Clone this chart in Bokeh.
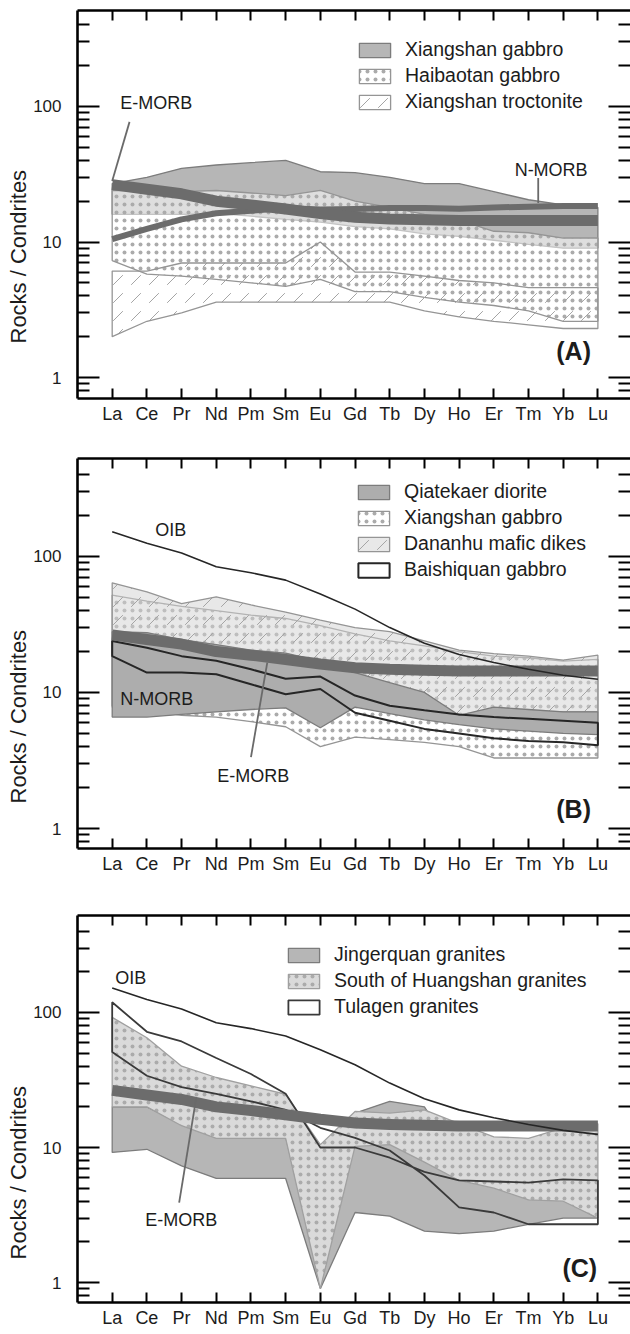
from bokeh.plotting import figure
from bokeh.models import (Range1d, FixedTicker, LinearAxis, LogAxis, Label, Legend, Title,
                          LegendItem, NumeralTickFormatter, CustomJSTickFormatter)
from bokeh.layouts import column
from bokeh.embed import file_html
from bokeh.resources import INLINE

# ---------------- data ----------------
elements = ["La", "Ce", "Pr", "Nd", "Pm", "Sm", "Eu", "Gd", "Tb", "Dy", "Ho", "Er", "Tm", "Yb", "Lu"]

emorb = [26.5, 24.5, 22.7, 20.0, 18.8, 17.5, 16.2, 15.2, 14.8, 14.6, 14.4, 14.4, 14.4, 14.4, 14.4]
nmorb = [10.5, 12.5, 14.7, 16.3, 17.0, 17.8, 17.4, 17.5, 17.8, 17.8, 17.6, 18.0, 18.2, 18.4, 18.4]
oib = [152, 125, 106, 84, 76, 67, 53, 41, 30, 23, 19, 16.6, 14.8, 13.4, 12.5]

# panel A
xg_a_top = [27, 30, 35, 37, 38.5, 40, 33, 32.5, 30, 27, 27, 23.5, 20.5, 18.8, 18]
xg_a_bot = [16, 16, 16, 16.3, 15.5, 14.7, 14, 13, 12.5, 11.5, 11, 10.3, 9.6, 9.0, 9.0]
hb_top = [24, 24, 23.5, 24, 23, 22, 24, 20, 18, 16, 14.5, 12, 11.7, 10.7, 10.7]
hb_bot = [7.3, 5.8, 5.6, 5.3, 5.0, 4.7, 5.3, 4.3, 4.3, 3.9, 3.6, 3.4, 3.1, 2.6, 2.6]
tr_top = [6.1, 6.1, 7.0, 7.0, 7.0, 7.0, 10.0, 6.0, 6.0, 5.6, 5.2, 5.0, 4.6, 4.6, 4.6]
tr_bot = [2.0, 2.6, 3.0, 3.6, 3.6, 3.6, 3.6, 3.6, 3.6, 3.1, 2.8, 2.6, 2.45, 2.3, 2.3]

# panel B
qd_top = [28, 27.5, 24.5, 22.5, 20.5, 19.5, 17, 14, 11.8, 10, 6.8, 7.8, 7.5, 7.2, 7.2]
qd_bot = [6.6, 6.6, 6.9, 7.2, 7.5, 7.7, 5.5, 7.8, 7.0, 6.3, 5.8, 5.4, 5.2, 5.0, 4.9]
xg_b_top = [52, 47, 43, 40, 37, 35, 31, 27, 24, 22, 20, 18.5, 18, 17, 17.5]
xg_b_bot = [8, 7.5, 6.8, 6.6, 6.1, 5.6, 4.0, 4.7, 4.5, 4.3, 4.0, 3.3, 3.3, 3.3, 3.3]
dk_top = [64, 55, 45, 50.5, 44, 39, 34, 30, 28, 24, 20.5, 19.3, 18.5, 17.3, 18.8]
dk_bot = [7.8, 7.5, 7.3, 7.5, 8, 8.5, 9, 9.5, 10, 10, 6.6, 7.5, 7.3, 7.2, 7.2]
bs_up = [23.9, 21.3, 18.5, 17.1, 14.8, 12.6, 13.1, 9.5, 8.0, 7.4, 6.9, 6.6, 6.4, 6.2, 6.0]
bs_lo = [18.5, 14.0, 14.0, 13.6, 11.5, 9.7, 10.6, 7.1, 6.2, 5.4, 5.0, 4.6, 4.4, 4.3, 4.1]

# panel C
jq_top = [20, 20, 15, 12, 12, 12, 1.0, 18, 22, 20, 8, 5.5, 4.3, 4.1, 3.0]
jq_bot = [9.2, 9.7, 7.3, 5.9, 5.9, 5.9, 0.9, 3.3, 3.1, 2.4, 2.3, 2.4, 2.7, 3.0, 3.0]
sh_top = [92, 65, 40, 33, 28.6, 24.8, 10.5, 18.5, 18, 19, 15, 12, 11.7, 14, 15]
sh_bot = [20, 20, 14.5, 11.7, 11.7, 11.7, 0.9, 10.2, 10.5, 7.8, 5.7, 5.0, 4.1, 4.0, 3.0]
tl_up = [119, 72, 61, 46, 35, 25, 10, 10, 8.4, 6.6, 5.7, 5.6, 5.5, 5.8, 5.7]
tl_lo = [51, 34, 28, 25, 22, 19, 14, 11.8, 9.5, 6.2, 3.6, 3.3, 2.7, 2.7, 2.7]

major_y = [1, 10, 100]
minor_y = [0.8, 0.9, 2, 3, 4, 5, 6, 7, 8, 9, 20, 30, 40, 50, 60, 70, 80, 90, 200, 300, 400]

# ---------------- style ----------------
FONT = "Liberation Sans"
TXT = "#1c1c1c"
DARK = "#b6b6b6"
LIGHT = "#dadada"
EDGE = "#7c7c7c"
MORB = "#6c6c6c"
xs = list(range(len(elements)))
blank = CustomJSTickFormatter(code="return ''")

dots = dict(hatch_pattern="dot", hatch_scale=8, hatch_weight=0.5, hatch_color="#ababab")
dashes = dict(hatch_pattern="right_diagonal_dash", hatch_scale=18, hatch_weight=1, hatch_color="#a4a4a4")


def band(p, upper, lower, **kw):
    return p.patch(xs + xs[::-1], list(upper) + list(lower)[::-1], **kw)


def make_fig(height, btop, bbot, y0, y1, title_offset):
    p = figure(width=630, height=height, x_range=Range1d(-1, 14.94), y_range=Range1d(y0, y1),
               y_axis_type="log", toolbar_location=None, output_backend="svg",
               min_border_left=77, min_border_right=0, min_border_top=btop, min_border_bottom=bbot)
    p.outline_line_color = None
    p.grid.visible = False
    xt = FixedTicker(ticks=xs)
    yt = FixedTicker(ticks=major_y, minor_ticks=minor_y)

    xa = p.xaxis[0]
    xa.ticker = xt
    xa.major_label_overrides = {i: e for i, e in enumerate(elements)}
    xa.major_tick_in = 10
    xa.major_tick_out = 0
    xa.minor_tick_in = 0
    xa.minor_tick_out = 0
    xa.axis_line_width = 2.6
    xa.major_tick_line_width = 2
    xa.major_label_text_font = FONT
    xa.major_label_text_font_size = "18px"
    xa.major_label_text_color = TXT
    xa.major_label_standoff = 5

    ta = LinearAxis(ticker=xt, formatter=blank, major_tick_in=10, major_tick_out=0, minor_tick_in=0,
                    minor_tick_out=0, axis_line_width=2.6, major_tick_line_width=2,
                    major_label_text_font_size="1px", major_label_standoff=0)
    p.add_layout(ta, "above")

    ya = p.yaxis[0]
    ya.ticker = yt
    ya.formatter = NumeralTickFormatter(format="0")
    ya.major_tick_in = 22
    ya.major_tick_out = 0
    ya.minor_tick_in = 12
    ya.minor_tick_out = 0
    ya.axis_line_width = 2.6
    ya.major_tick_line_width = 2.2
    ya.minor_tick_line_width = 2
    ya.major_label_text_font = FONT
    ya.major_label_text_font_size = "17px"
    ya.major_label_text_color = TXT
    ya.major_label_standoff = 16

    ra = LogAxis(ticker=yt, formatter=blank, major_tick_in=22, major_tick_out=0, minor_tick_in=12,
                 minor_tick_out=0, axis_line_color=None, major_tick_line_width=2.2,
                 minor_tick_line_width=2, major_label_text_font_size="1px", major_label_standoff=0)
    p.add_layout(ra, "right")

    p.add_layout(Title(text="Rocks / Condrites", align="left", offset=title_offset, standoff=0,
                       text_font=FONT, text_font_size="22px", text_font_style="normal",
                       text_color=TXT), "left")
    return p


def note(p, x, y, text, size="18px", align="left", bold=False):
    p.add_layout(Label(x=x, y=y, text=text, text_align=align, text_baseline="middle",
                       text_font=FONT, text_font_size=size, text_color=TXT,
                       text_font_style="bold" if bold else "normal"))


def legend(p, items, loc):
    lg = Legend(items=[LegendItem(label=l, renderers=[r]) for l, r in items], location=loc,
                orientation="vertical", glyph_width=39, glyph_height=18, spacing=3,
                padding=0, margin=0, label_standoff=11, border_line_color=None,
                background_fill_alpha=0, label_text_font=FONT, label_text_font_size="19.5px",
                label_text_color=TXT, label_height=18)
    p.add_layout(lg)


# ---------------- panel A ----------------
pa = make_fig(430, 10, 32, 0.70, 511, 55)
r_xg = band(pa, xg_a_top, xg_a_bot, fill_color=DARK, line_color=EDGE, line_width=1.3)
r_hb = band(pa, hb_top, hb_bot, fill_color="white", fill_alpha=0.55, line_color="#959595",
            line_width=1.3, **dots)
r_tr = band(pa, tr_top, tr_bot, fill_color=None, line_color="#959595", line_width=1.3, **dashes)
pa.line(xs, nmorb, line_color=MORB, line_width=6, line_join="round")
pa.line(xs, emorb, line_color=MORB, line_width=11, line_join="round")
pa.segment(x0=[0.5, 12.28], y0=[77, 29.7], x1=[0.0, 12.28], y1=[28.2, 19.4], line_color="#6a6a6a", line_width=1.8)
note(pa, 0.23, 106, "E-MORB")
note(pa, 11.6, 34, "N-MORB")
note(pa, 13.8, 1.57, "(A)", size="25px", align="right", bold=True)
legend(pa, [("Xiangshan gabbro", r_xg), ("Haibaotan gabbro", r_hb), ("Xiangshan troctonite", r_tr)],
       (278, 285))

# ---------------- panel B ----------------
pb = make_fig(452, 28, 34, 0.713, 525, 45)
r_xgb = band(pb, xg_b_top, xg_b_bot, fill_color="white", line_color="#959595", line_width=1.3, **dots)
r_dk = band(pb, dk_top, dk_bot, fill_color="#d2d2d2", fill_alpha=0.5, line_color="#959595",
            line_width=1.3, **dashes)
r_qd = band(pb, qd_top, qd_bot, fill_color="#adadad", line_color=EDGE, line_width=1.3)
r_bs = band(pb, bs_up, bs_lo, fill_color=None, line_color="#262626", line_width=2)
pb.line(xs, emorb, line_color=MORB, line_width=11, line_join="round")
pb.line(xs, oib, line_color="#262626", line_width=1.6)
pb.segment(x0=[4.0], y0=[3.35], x1=[4.47], y1=[16.6], line_color="#6a6a6a", line_width=1.8)
note(pb, 1.24, 156, "OIB")
note(pb, 0.23, 8.9, "N-MORB")
note(pb, 3.03, 2.43, "E-MORB")
note(pb, 13.8, 1.39, "(B)", size="25px", align="right", bold=True)
legend(pb, [("Qiatekaer diorite", r_qd), ("Xiangshan gabbro", r_xgb), ("Dananhu mafic dikes", r_dk),
            ("Baishiquan gabbro", r_bs)], (277, 267))

# ---------------- panel C ----------------
pc = make_fig(452, 33, 32, 0.711, 523, 43)
r_jq = band(pc, jq_top, jq_bot, fill_color=DARK, line_color=EDGE, line_width=1.3)
r_sh = band(pc, sh_top, sh_bot, fill_color=LIGHT, line_color="#a0a0a0", line_width=1.3, **dots)
r_tl = band(pc, tl_up, tl_lo, fill_color=None, line_color="#3a3a3a", line_width=1.8)
pc.line(xs, emorb, line_color=MORB, line_width=11, line_join="round")
pc.line(xs, oib, line_color="#262626", line_width=1.6)
pc.segment(x0=[1.93], y0=[3.9], x1=[2.42], y1=[23.1], line_color="#6a6a6a", line_width=1.8)
note(pc, 0.09, 181, "OIB")
note(pc, 0.95, 2.88, "E-MORB")
note(pc, 13.98, 1.29, "(C)", size="25px", align="right", bold=True)
legend(pc, [("Jingerquan granites", r_jq), ("South of Huangshan granites", r_sh), ("Tulagen granites", r_tl)],
       (207, 284))

layout = column(pa, pb, pc, spacing=0)
open("out.html", "w").write(file_html(layout, INLINE))
